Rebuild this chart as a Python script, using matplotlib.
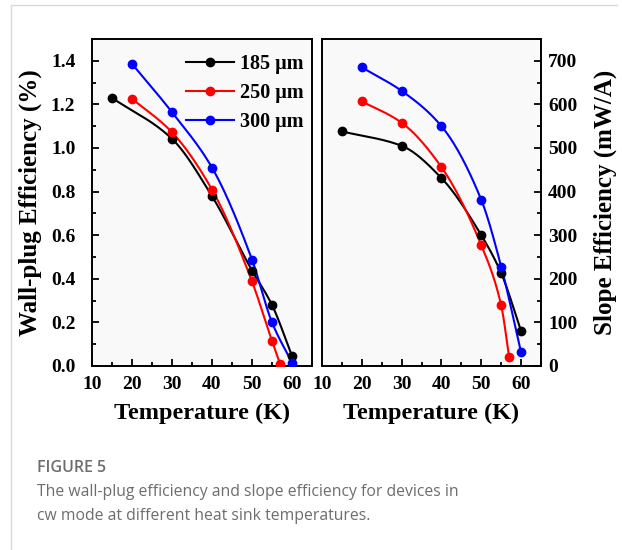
import numpy as np
import matplotlib
matplotlib.use("Agg")
import matplotlib.pyplot as plt
from matplotlib.ticker import MultipleLocator, FormatStrFormatter
from matplotlib.lines import Line2D

# Data
sizes = ["185 μm", "250 μm", "300 μm"]
colors = ["black", "red", "blue"]

temp_185 = [15, 30, 40, 50, 55, 60]
temp_250 = [20, 30, 40, 50, 55, 57]
temp_300 = [20, 30, 40, 50, 55, 60]

wpe_185 = [1.23, 1.042, 0.779, 0.438, 0.28, 0.046]
wpe_250 = [1.226, 1.072, 0.809, 0.388, 0.115, 0.011]
wpe_300 = [1.386, 1.164, 0.91, 0.488, 0.2, 0.015]

slope_185 = [538, 505, 431, 300, 213, 80]
slope_250 = [607, 558, 456, 277, 139, 20]
slope_300 = [685, 631, 550, 381, 228, 31]

temps = [temp_185, temp_250, temp_300]
wpe = [wpe_185, wpe_250, wpe_300]
slope = [slope_185, slope_250, slope_300]


def smooth(x, y, n=200):
    # monotone cubic hermite through the points, only for drawing the line
    x = np.asarray(x, float)
    y = np.asarray(y, float)
    h = np.diff(x)
    d = np.diff(y) / h
    m = np.zeros_like(y)
    m[0], m[-1] = d[0], d[-1]
    for i in range(1, len(y) - 1):
        if d[i - 1] * d[i] > 0:
            w1 = 2 * h[i] + h[i - 1]
            w2 = h[i] + 2 * h[i - 1]
            m[i] = (w1 + w2) / (w1 / d[i - 1] + w2 / d[i])
    xs = np.linspace(x[0], x[-1], n)
    idx = np.clip(np.searchsorted(x, xs) - 1, 0, len(x) - 2)
    t = (xs - x[idx]) / h[idx]
    h00 = 2 * t**3 - 3 * t**2 + 1
    h10 = t**3 - 2 * t**2 + t
    h01 = -2 * t**3 + 3 * t**2
    h11 = t**3 - t**2
    ys = h00 * y[idx] + h10 * h[idx] * m[idx] + h01 * y[idx + 1] + h11 * h[idx] * m[idx + 1]
    return xs, ys


serif = "Liberation Serif"
fig = plt.figure(figsize=(6.22, 5.5), dpi=100)

ax1 = fig.add_axes([92 / 622, 1 - 366 / 550, 220 / 622, 327 / 550])
ax2 = fig.add_axes([322 / 622, 1 - 366 / 550, 219 / 622, 327 / 550])

for ax, vals in [(ax1, wpe), (ax2, slope)]:
    ax.set_facecolor("#f9f9f9")
    for x, y, c in zip(temps, vals, colors):
        xs, ys = smooth(x, y)
        ax.plot(xs, ys, color=c, lw=1.5, zorder=2)
        ax.plot(x, y, "o", color=c, ms=6, zorder=3)
    ax.set_xlim(10, 65)
    ax.xaxis.set_major_locator(MultipleLocator(10))
    ax.xaxis.set_minor_locator(MultipleLocator(5))
    for s in ax.spines.values():
        s.set_linewidth(1.4)
    ax.tick_params(which="both", direction="in", width=1.3, top=False,
                   labelsize=14)
    ax.tick_params(axis="x", pad=7)
    ax.tick_params(which="major", length=5)
    ax.tick_params(which="minor", length=3)
    ax.set_xlabel("Temperature (K)", fontfamily=serif, fontweight="bold",
                  fontsize=17.5, labelpad=7)

ax1.set_ylim(0, 1.5)
ax1.yaxis.set_major_locator(MultipleLocator(0.2))
ax1.yaxis.set_minor_locator(MultipleLocator(0.1))
ax1.yaxis.set_major_formatter(FormatStrFormatter("%.1f"))
ax1.tick_params(which="both", right=False)
ax1.tick_params(axis="y", pad=12)
ax1.set_ylabel("Wall-plug Efficiency (%)", fontfamily=serif, fontweight="bold",
               fontsize=18, labelpad=6)

ax2.set_ylim(0, 750)
ax2.yaxis.set_major_locator(MultipleLocator(100))
ax2.yaxis.set_minor_locator(MultipleLocator(50))
ax2.yaxis.tick_right()
ax2.yaxis.set_label_position("right")
ax2.tick_params(which="both", left=False, right=True)
ax2.tick_params(axis="y", pad=5)
ax2.set_ylabel("Slope Efficiency (mW/A)", fontfamily=serif, fontweight="bold",
               fontsize=18, labelpad=12)

for ax in (ax1, ax2):
    for lab in ax.get_xticklabels() + ax.get_yticklabels():
        lab.set_fontfamily(serif)
        lab.set_fontweight("bold")

handles = [Line2D([], [], color=c, lw=1.5, marker="o", ms=6) for c in colors]
ax1.legend(handles, sizes, loc="upper right", frameon=False,
           prop={"family": serif, "weight": "bold", "size": 14.5},
           handlelength=2.4, handletextpad=0.3, labelspacing=0.45,
           borderaxespad=0.0, bbox_to_anchor=(1.0, 0.98))

# card border and caption
fig.add_artist(Line2D([11 / 622, 11 / 622], [0, 1 - 5 / 550], color="#d9d9d9", lw=1))
fig.add_artist(Line2D([11 / 622, 617 / 622], [1 - 5 / 550, 1 - 5 / 550], color="#d9d9d9", lw=1))
fig.text(37 / 622, 1 - 468 / 550, "FIGURE 5", fontfamily="Open Sans",
         fontweight="semibold", fontsize=11.5, color="#6d6d6d", va="center")
fig.text(37 / 622, 1 - 504 / 550,
         "The wall-plug efficiency and slope efficiency for devices in\n"
         "cw mode at different heat sink temperatures.",
         fontfamily="Open Sans", fontsize=11.3, color="#6d6d6d", va="center",
         linespacing=1.6)

fig.savefig("out.png", dpi=100)
